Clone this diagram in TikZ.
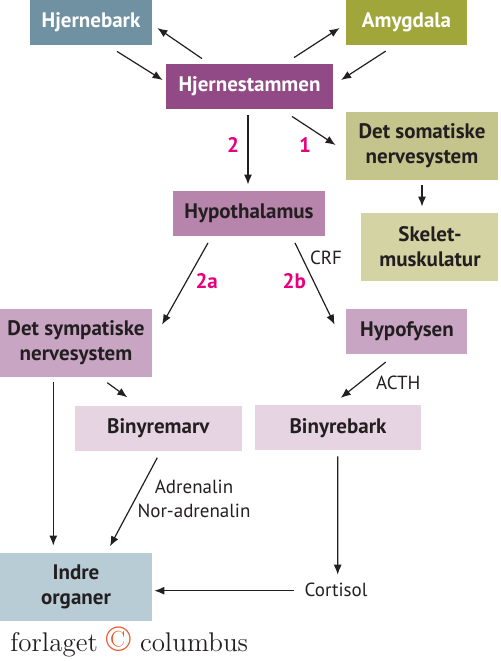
\documentclass[tikz,border=0pt]{standalone}
\usepackage{fontspec}
\newfontfamily\ptsans{PT Sans}
\usepackage{xcolor}
\usepackage{tikz}
\usetikzlibrary{arrows.meta,positioning}

\definecolor{barkblue}{HTML}{6F91A1}
\definecolor{amygolive}{HTML}{A0A63A}
\definecolor{stemplum}{HTML}{924A87}
\definecolor{somakhaki}{HTML}{C4C58C}
\definecolor{skelkhaki}{HTML}{D3D3A3}
\definecolor{hypomauve}{HTML}{B784AC}
\definecolor{midmauve}{HTML}{C9A5C4}
\definecolor{palemauve}{HTML}{E6D4E3}
\definecolor{organblue}{HTML}{B8CCD6}
\definecolor{textdark}{HTML}{231F20}
\definecolor{numpink}{HTML}{E6007E}
\definecolor{logored}{HTML}{E8552A}

\begin{document}
\begin{tikzpicture}[
    x=0.5pt, y=-0.5pt,
    font=\ptsans\fontsize{9.5}{12}\selectfont,
    box/.style={
        inner sep=0pt,
        align=center,
        text=textdark,
        font=\ptsans\bfseries\fontsize{10.5}{12.5}\selectfont
    },
    darkbox/.style={box, text=white},
    num/.style={inner sep=0pt, text=numpink, font=\ptsans\bfseries\fontsize{10.5}{12}\selectfont},
    tag/.style={inner sep=0pt, text=textdark, align=center},
    arrow/.style={-{Latex[length=5pt,width=4pt]}, line width=0.6pt, draw=textdark}
]
\useasboundingbox (0,0) rectangle (500,661);

\node[darkbox, fill=barkblue, minimum width=61pt, minimum height=22.5pt] (hjernebark) at (91,22.5) {Hjernebark};
\node[darkbox, fill=amygolive, minimum width=60.5pt, minimum height=22.5pt] (amygdala) at (406.5,22.5) {Amygdala};
\node[darkbox, fill=stemplum, minimum width=83.5pt, minimum height=22.5pt] (hjernestammen) at (249.5,86.5) {Hjernestammen};
\node[box, fill=somakhaki, minimum width=76pt, minimum height=34pt] (somatisk) at (422,145.5) {Det somatiske\\nervesystem};
\node[box, fill=skelkhaki, minimum width=68.5pt, minimum height=34pt] (skelet) at (430,247) {Skelet-\\muskulatur};
\node[box, fill=hypomauve, minimum width=76pt, minimum height=22.5pt] (hypothalamus) at (249,213) {Hypothalamus};
\node[box, fill=midmauve, minimum width=76pt, minimum height=34pt] (sympatisk) at (76,343) {Det sympatiske\\nervesystem};
\node[box, fill=midmauve, minimum width=60.5pt, minimum height=22.5pt] (hypofysen) at (407,331.7) {Hypofysen};
\node[box, fill=palemauve, minimum width=83.5pt, minimum height=22.5pt] (binyremarv) at (158.3,428.3) {Binyremarv};
\node[box, fill=palemauve, minimum width=83pt, minimum height=22.5pt] (binyrebark) at (338,427.8) {Binyrebark};
\node[box, fill=organblue, minimum width=76pt, minimum height=34pt] (indre) at (76,586.7) {Indre\\organer};
\node[tag] (cortisol) at (336,590) {Cortisol};

\node[num] (vej2) at (233,145) {2};
\node[num] (vej1) at (305,145) {1};
\node[num] (vej2a) at (206.7,281) {2a};
\node[num] (vej2b) at (294.3,281) {2b};
\node[tag] (crf) at (326,258) {CRF};
\node[tag] (acth) at (398.3,383.3) {ACTH};
\node[tag] (adrenalin) at (194,499) {Adrenalin\\Nor-adrenalin};

\node[anchor=base west, inner sep=0pt, font=\fontsize{13.5}{14}\selectfont, text=textdark] (logo) at (10,651)
    {forlaget \textcolor{logored}{\fontsize{18}{18}\selectfont\textcopyright} columbus};

\draw[arrow] ([shift={(-47.5,-5)}]hjernestammen.north) -- ([shift={(5,5.5)}]hjernebark.east);
\draw[arrow] ([shift={(26,6)}]hjernebark.south) -- ([shift={(-3,-6.5)}]hjernestammen.west);
\draw[arrow] ([shift={(44.5,-6)}]hjernestammen.north) -- ([shift={(-6,5.5)}]amygdala.west);
\draw[arrow] ([shift={(-20.8,5.7)}]amygdala.south) -- ([shift={(7.7,-6.5)}]hjernestammen.east);
\draw[arrow] ([shift={(-1.5,6)}]hjernestammen.south) -- ([shift={(-1,-5.5)}]hypothalamus.north);
\draw[arrow] ([shift={(42.5,7)}]hjernestammen.south) -- ([shift={(-10,-0.5)}]somatisk.west);
\draw[arrow] ([shift={(0,5.5)}]somatisk.south) -- ([shift={(-8,-6)}]skelet.north);
\draw[arrow] ([shift={(-41,7)}]hypothalamus.south) -- ([shift={(9.7,16)}]sympatisk.north east);
\draw[arrow] ([shift={(46,7)}]hypothalamus.south) -- ([shift={(-11.5,15.8)}]hypofysen.north west);
\draw[arrow] ([shift={(31.3,5.3)}]sympatisk.south) -- ([shift={(52.9,-8.1)}]binyremarv.north west);
\draw[arrow] ([shift={(-21.3,7.5)}]hypofysen.south) -- ([shift={(2.7,-7)}]binyrebark.north);
\draw[arrow] ([shift={(-22.7,4.7)}]sympatisk.south) -- ([shift={(-22.7,-6.7)}]indre.north);
\draw[arrow] ([shift={(-1,6.5)}]binyremarv.south) -- ([shift={(34,-6)}]indre.north);
\draw[arrow] ([shift={(-0.3,5.7)}]binyrebark.south) -- ([shift={(1.7,-8)}]cortisol.north);
\draw[arrow] ([shift={(-10,0.7)}]cortisol.west) -- ([shift={(2,4)}]indre.east);
\end{tikzpicture}
\end{document}
